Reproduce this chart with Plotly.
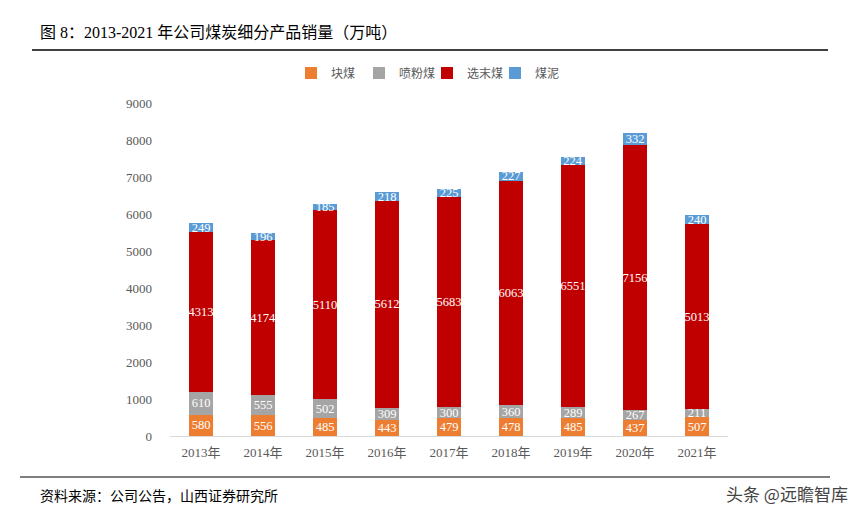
import plotly.graph_objects as go

years = ["2013年", "2014年", "2015年", "2016年", "2017年", "2018年", "2019年", "2020年", "2021年"]
kuaimei = [580, 556, 485, 443, 479, 478, 485, 437, 507]
penfenmei = [610, 555, 502, 309, 300, 360, 289, 267, 211]
xuanmomei = [4313, 4174, 5110, 5612, 5683, 6063, 6551, 7156, 5013]
meini = [249, 196, 185, 218, 225, 227, 224, 332, 240]

series = [
    ("块煤", kuaimei, "#ED7D31"),
    ("喷粉煤", penfenmei, "#A5A5A5"),
    ("选末煤", xuanmomei, "#C00000"),
    ("煤泥", meini, "#5B9BD5"),
]

# page body adds an 8px margin; lay out in reference pixels minus that offset
O = 8
W, H = 849, 500
L, R, T, B = 170 - O, 728 - O, 103 - O, 436 - O

def px(x):
    return (x - O - L) / (R - L)

def py(y):
    return (B - (y - O)) / (B - T)

fig = go.Figure()
for name, vals, color in series:
    fig.add_trace(go.Bar(
        x=years, y=vals, name=name,
        marker=dict(color=color, line=dict(width=0)),
        text=[str(v) for v in vals],
        textposition="inside",
        insidetextanchor="middle",
        constraintext="none",
        textangle=0,
        textfont=dict(family="Liberation Serif", size=12.5, color="white"),
        hoverinfo="skip",
    ))

serif_cjk = "Liberation Serif, Noto Sans CJK SC"

fig.update_layout(
    barmode="stack",
    bargap=0.61,
    width=W, height=H,
    margin=dict(l=L, r=W - R, t=T, b=H - B, pad=0),
    plot_bgcolor="white",
    paper_bgcolor="white",
    showlegend=True,
    legend=dict(
        orientation="h",
        x=px(427), xanchor="center",
        y=py(73), yanchor="middle",
        font=dict(family="Noto Sans CJK SC", size=12, color="#595959"),
        itemwidth=30,
        entrywidth=23,
        entrywidthmode="pixels",
        traceorder="normal",
    ),
    xaxis=dict(
        showgrid=False,
        showline=True, linecolor="#D9D9D9", linewidth=1,
        ticks="",
        ticklabelstandoff=4,
        tickfont=dict(family=serif_cjk, size=13, color="#595959"),
    ),
    yaxis=dict(
        range=[0, 9000],
        dtick=1000,
        showgrid=False,
        showline=False,
        zeroline=False,
        ticks="",
        ticklabelstandoff=17,
        tickfont=dict(family="Liberation Serif", size=13, color="#595959"),
    ),
)

# title, rules, source, watermark
fig.add_annotation(
    xref="paper", yref="paper", x=px(38), y=py(32), xanchor="left", yanchor="middle",
    text="图 8：2013-2021 年公司煤炭细分产品销量（万吨）", showarrow=False,
    font=dict(family=serif_cjk, size=16, color="#000000"),
)
fig.add_shape(type="line", xref="paper", yref="paper",
              x0=px(32), x1=px(828), y0=py(50), y1=py(50),
              line=dict(color="black", width=1.5))
fig.add_shape(type="line", xref="paper", yref="paper",
              x0=px(20), x1=px(830), y0=py(477), y1=py(477),
              line=dict(color="black", width=1.2))
fig.add_annotation(
    xref="paper", yref="paper", x=px(38), y=py(495), xanchor="left", yanchor="middle",
    text="资料来源：公司公告，山西证券研究所", showarrow=False,
    font=dict(family="Noto Sans CJK SC", size=14, color="#000000"),
)
fig.add_annotation(
    xref="paper", yref="paper", x=px(850), y=py(493), xanchor="right", yanchor="middle",
    text="头条 @远瞻智库", showarrow=False,
    font=dict(family="Noto Sans CJK SC", size=17, color="#444444"),
)

fig.write_html("out.html")
